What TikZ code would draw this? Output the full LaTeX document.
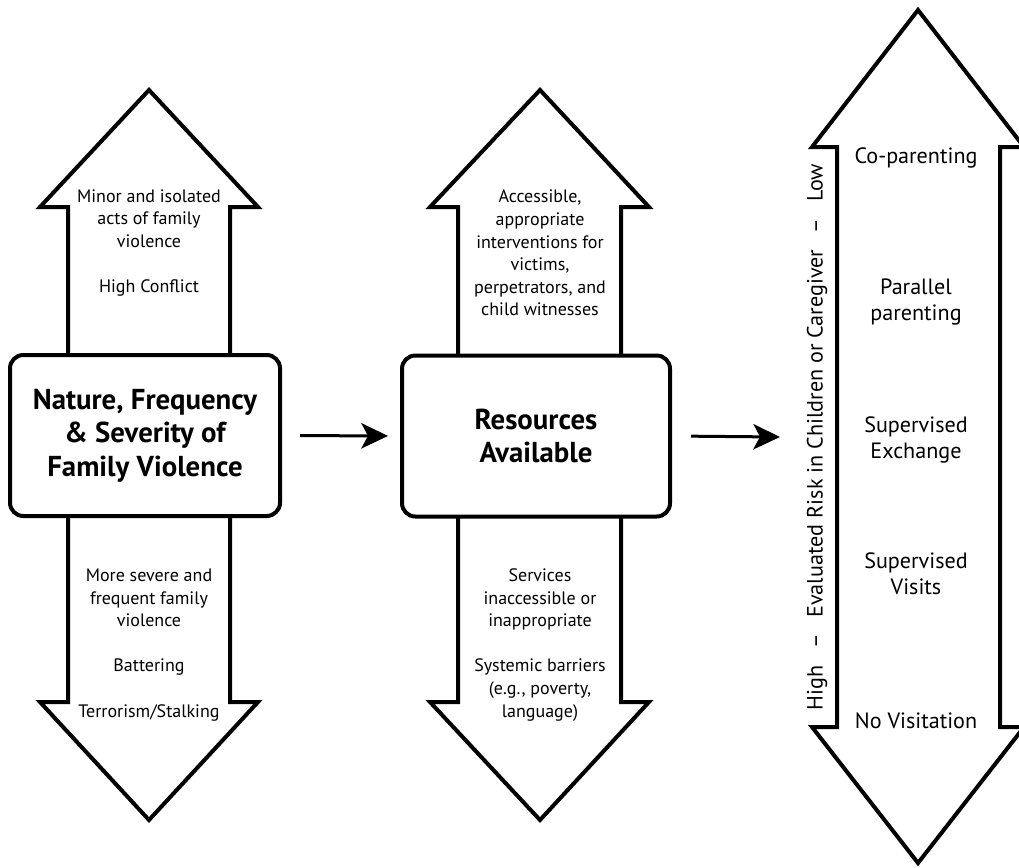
\documentclass[tikz,border=0pt]{standalone}
\usepackage{fontspec}
\setmainfont{PT Sans}
\usetikzlibrary{arrows.meta}
\begin{document}
\begin{tikzpicture}[x=0.75pt,y=-0.75pt,
  outline/.style={draw=black, line width=3pt, fill=white, line join=miter},
  mainbox/.style={draw=black, line width=3pt, fill=white, rounded corners=10pt,
    inner sep=0pt, align=center, font=\fontsize{21.6}{25}\selectfont\bfseries},
  lbl/.style={align=center, font=\fontsize{13.5}{16.9}\selectfont, inner sep=0pt},
  rlbl/.style={align=center, font=\fontsize{16.6}{19.5}\selectfont, inner sep=0pt},
  flow/.style={line width=2.25pt, -{Stealth[length=20pt,width=19pt,inset=5pt]}}]
\useasboundingbox (0,0) rectangle (1019,867);
\fill[white] (0,0) rectangle (1019,867);
\clip (0,0) rectangle (1019,867);

% left double arrow
\draw[outline] (149,90) -- (258,207) -- (230,207) -- (230,702) -- (258,702) -- (149,820)
  -- (40,702) -- (68,702) -- (68,207) -- (40,207) -- cycle;
% middle double arrow
\draw[outline] (540,90) -- (649,207) -- (621,207) -- (621,702) -- (649,702) -- (540,820)
  -- (430,702) -- (458,702) -- (458,207) -- (430,207) -- cycle;
% right double arrow
\draw[outline] (918,10) -- (1024,147) -- (1000,147) -- (1000,727) -- (1024,727) -- (918,863)
  -- (812,727) -- (837,727) -- (837,147) -- (812,147) -- cycle;

% boxes
\node[mainbox, minimum width=202.5pt, minimum height=120.75pt] (nature) at (145,435.5)
  {Nature, Frequency\\\& Severity of\\Family Violence};
\node[mainbox, minimum width=201pt, minimum height=120.75pt] (resources) at (536,436)
  {Resources\\Available};

% connectors
\coordinate (riskin) at (780,437);
\draw[flow, shorten <=13.5pt, shorten >=9pt] (nature.east) -- (resources.west);
\draw[flow, shorten <=14.25pt] (resources.east) -- (riskin);

% left texts
\node[lbl] (minor) at (149,243) {Minor and isolated\\acts of family\\violence\\[16.9pt]High Conflict};
\node[lbl] (severe) at (149,645) {More severe and\\frequent family\\violence\\[16.9pt]Battering\\[16.9pt]Terrorism/Stalking};
% middle texts
\node[lbl] (access) at (540,253) {Accessible,\\appropriate\\interventions for\\victims,\\perpetrators, and\\child witnesses};
\node[lbl] (services) at (540,645) {Services\\inaccessible or\\inappropriate\\[16.9pt]Systemic barriers\\(e.g., poverty,\\language)};
% right texts
\node[rlbl] (copar) at (916,158) {Co-parenting};
\node[rlbl] (parallel) at (916,302) {Parallel\\parenting};
\node[rlbl] (exchange) at (916,440) {Supervised\\Exchange};
\node[rlbl] (visits) at (916,574) {Supervised\\Visits};
\node[rlbl] (novisit) at (916,721) {No Visitation};
\node[rlbl, rotate=90] (risk) at (817,437)
  {High\hspace{0.75em}–\hspace{0.75em}Evaluated Risk in Children or Caregiver\hspace{0.75em}–\hspace{0.75em}Low};
\end{tikzpicture}
\end{document}
